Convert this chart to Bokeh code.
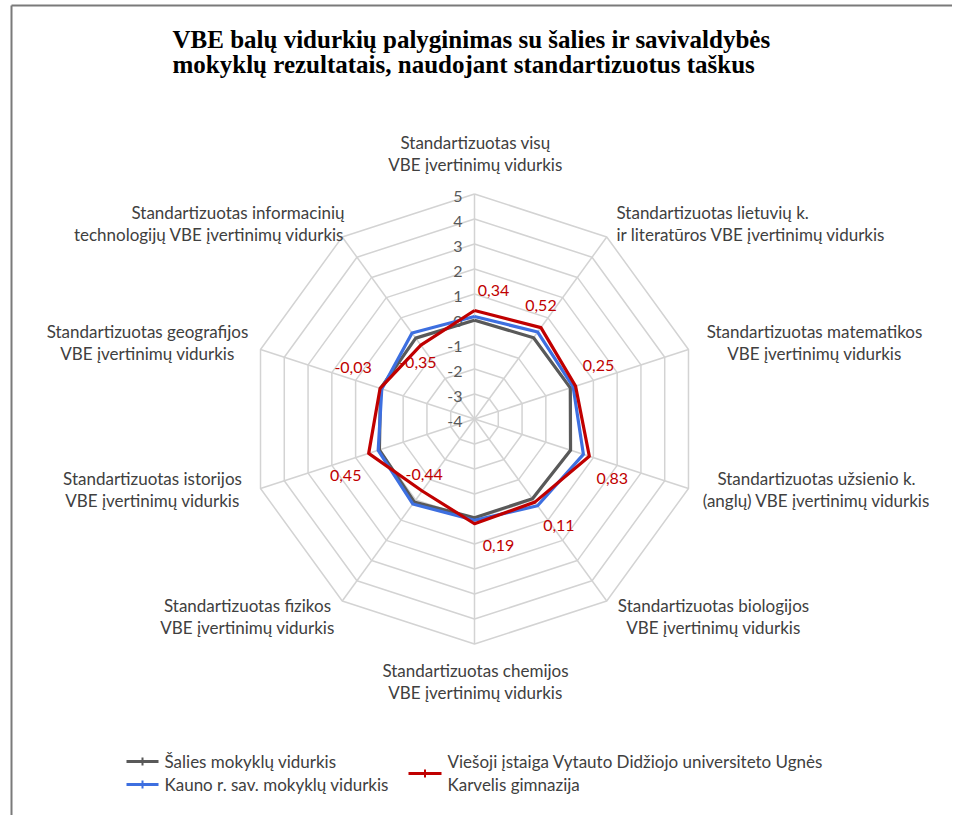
import math
from bokeh.plotting import figure
from bokeh.models import Range1d, ColumnDataSource
from bokeh.core.properties import value
from bokeh.embed import file_html
from bokeh.resources import INLINE

# ---------------- data ----------------
title_lines = [
    "VBE balų vidurkių palyginimas su šalies ir savivaldybės",
    "mokyklų rezultatais, naudojant standartizuotus taškus",
]
categories = [
    ["Standartizuotas visų", "VBE įvertinimų vidurkis"],
    ["Standartizuotas lietuvių k.", "ir literatūros VBE įvertinimų vidurkis"],
    ["Standartizuotas matematikos", "VBE įvertinimų vidurkis"],
    ["Standartizuotas užsienio k.", "(anglų) VBE įvertinimų vidurkis"],
    ["Standartizuotas biologijos", "VBE įvertinimų vidurkis"],
    ["Standartizuotas chemijos", "VBE įvertinimų vidurkis"],
    ["Standartizuotas fizikos", "VBE įvertinimų vidurkis"],
    ["Standartizuotas istorijos", "VBE įvertinimų vidurkis"],
    ["Standartizuotas geografijos", "VBE įvertinimų vidurkis"],
    ["Standartizuotas informacinių", "technologijų VBE įvertinimų vidurkis"],
]
tick_values = [-4, -3, -2, -1, 0, 1, 2, 3, 4, 5]
salies = [-0.05, 0.02, 0.03, 0.04, -0.06, -0.05, 0.10, 0.00, -0.05, 0.00]
kauno = [0.10, 0.30, 0.15, 0.58, 0.29, 0.05, 0.20, 0.05, -0.10, 0.25]
gimnazija = [0.34, 0.52, 0.25, 0.83, 0.11, 0.19, -0.44, 0.45, -0.03, -0.35]
series_names = [
    "Šalies mokyklų vidurkis",
    "Kauno r. sav. mokyklų vidurkis",
    ["Viešoji įstaiga Vytauto Didžiojo universiteto Ugnės", "Karvelis gimnazija"],
]

# ---------------- layout / style ----------------
W, H = 952, 815
CX, CY = 474, 418.5          # radar centre (page px)
PX_PER_UNIT = 25.0
RMIN, RMAX = tick_values[0], tick_values[-1]
GRID = "#d3d3d3"
TXT = "#404040"
COL_GREY = "#595959"
COL_BLUE = "#3d6fe0"
COL_RED = "#c00000"
FONT = value("Lato")
FS = "16px"
FS_CAT = "17px"

# label anchors (x, y of first line, align)
cat_pos = [
    (475, 142, "center"), (616, 212, "left"), (814, 331, "center"),
    (816, 478, "center"), (713, 605, "center"), (475, 670, "center"),
    (247, 605, "center"), (152, 478, "center"), (147, 331, "center"),
    (344, 212, "right"),
]
# red data-label offsets from the point (px)
lbl_off = [(19, -20), (0, -22), (23, -21), (23, 22), (24, 23), (24, 22),
           (2, -17), (-23, 22), (-27, -21), (-3, 17)]

n = len(categories)
angles = [2 * math.pi * i / n for i in range(n)]


def to_xy(vals):
    xs, ys = [], []
    for v, a in zip(vals, angles):
        r = (v - RMIN) * PX_PER_UNIT
        xs.append(CX + r * math.sin(a))
        ys.append(CY - r * math.cos(a))
    return xs, ys


p = figure(width=W, height=H, output_backend="svg", toolbar_location=None,
           x_range=Range1d(0, W), y_range=Range1d(H, 0),
           min_border=0, outline_line_color=None)
p.axis.visible = False
p.grid.visible = False
p.background_fill_color = "white"

# frame lines (left and top)
p.line([11, 11], [5, H], line_color="#7a7a7a", line_width=2)
p.line([11, W], [5, 5], line_color="#7a7a7a", line_width=2)

# grid rings
for t in tick_values[1:]:
    xs, ys = to_xy([t] * n)
    p.line(xs + xs[:1], ys + ys[:1], line_color=GRID, line_width=1.5)
# spokes
ox, oy = to_xy([RMAX] * n)
p.multi_line([[CX, x] for x in ox], [[CY, y] for y in oy],
             line_color=GRID, line_width=1.5)

# tick labels
tx, ty = [], []
for t in tick_values:
    r = (t - RMIN) * PX_PER_UNIT
    tx.append(CX - 12)
    ty.append(CY - r + 2)
p.text(tx, ty, text=[str(t) for t in tick_values], text_align="right",
       text_baseline="middle", text_color="#595959", text_font=FONT,
       text_font_size=FS)

# series
for vals, col in [(salies, COL_GREY), (kauno, COL_BLUE), (gimnazija, COL_RED)]:
    xs, ys = to_xy(vals)
    p.line(xs + xs[:1], ys + ys[:1], line_color=col, line_width=3.2,
           line_join="round")

# red data labels
rx, ry = to_xy(gimnazija)
src = ColumnDataSource(dict(
    x=[x + o[0] for x, o in zip(rx, lbl_off)],
    y=[y + o[1] for y, o in zip(ry, lbl_off)],
    t=[("%.2f" % v).replace(".", ",") for v in gimnazija],
))
p.text("x", "y", text="t", source=src, text_align="center",
       text_baseline="middle", text_color=COL_RED, text_font=FONT,
       text_font_size=FS)

# category labels
for lines, (x, y, al) in zip(categories, cat_pos):
    p.text([x] * len(lines), [y + 22 * k for k in range(len(lines))],
           text=lines, text_align=al, text_baseline="middle",
           text_color=TXT, text_font=FONT, text_font_size=FS_CAT)

# title
p.text([172, 172], [39, 64], text=title_lines, text_align="left",
       text_baseline="middle", text_color="black",
       text_font=value("Liberation Serif"), text_font_style="bold",
       text_font_size="25px")

# legend
leg = [
    (COL_GREY, 126, 158, 761, [series_names[0]], 164),
    (COL_BLUE, 126, 158, 784, [series_names[1]], 164),
    (COL_RED, 408, 441, 773, series_names[2], 447),
]
for col, x0, x1, y, lines, tx0 in leg:
    p.line([x0, x1], [y, y], line_color=col, line_width=3)
    p.scatter([(x0 + x1) / 2], [y], marker="dash", angle=math.pi / 2,
              size=8, line_color=col, line_width=2)
    ly = [761 + 23 * k for k in range(len(lines))] if len(lines) > 1 else [y]
    p.text([tx0] * len(lines), ly, text=lines, text_align="left",
           text_baseline="middle", text_color=TXT, text_font=FONT,
           text_font_size=FS_CAT)

open("out.html", "w").write(file_html(p, INLINE))
